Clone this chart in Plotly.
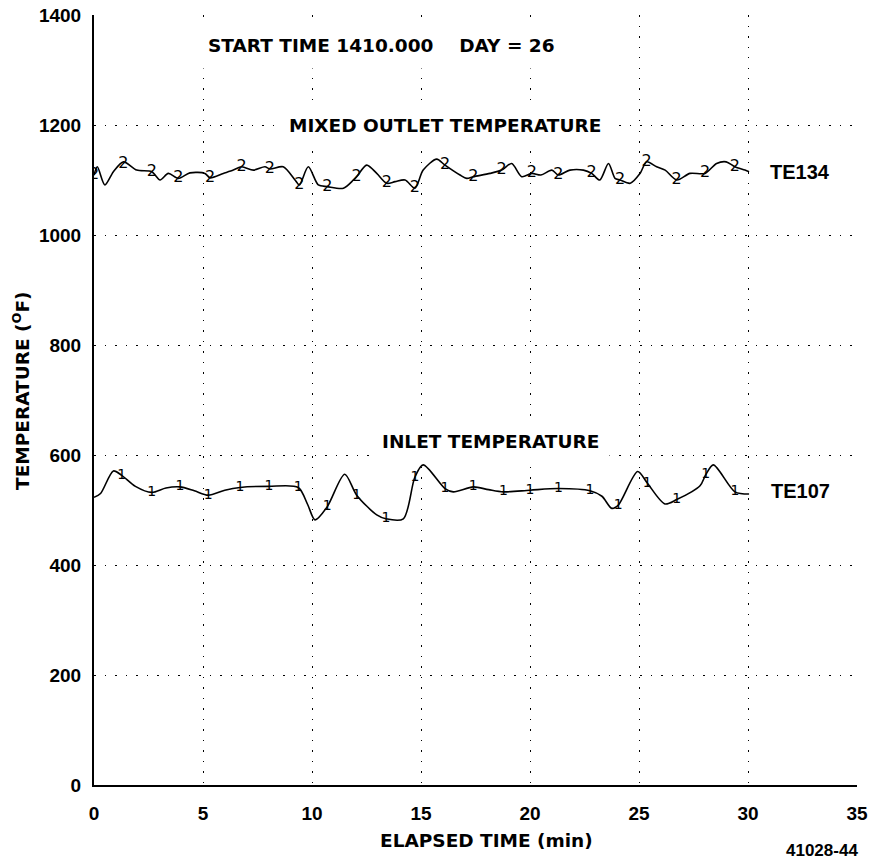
import plotly.graph_objects as go

# ---------------- data ----------------
te134_t = [0.0, 0.15, 0.5, 0.89, 1.35, 1.96, 2.65, 3.03, 3.41, 3.87, 4.4, 5.09, 5.32, 5.93,
           6.39, 6.77, 7.31, 7.84, 8.07, 8.68, 9.22, 9.42, 9.83, 10.29, 10.7, 11.44, 11.9,
           12.05, 12.51, 12.97, 13.43, 13.81, 14.27, 14.72, 15.1, 15.72, 16.1, 16.79, 17.1,
           17.4, 18.17, 18.7, 19.16, 19.62, 20.08, 20.5, 21.0, 21.3, 21.83, 22.45, 22.83,
           23.2, 23.6, 23.9, 24.13, 24.6, 25.05, 25.35, 25.81, 26.2, 26.73, 27.34, 28.03,
           28.56, 29.0, 29.4, 29.86, 30.05]
te134_v = [1109, 1124, 1091, 1115, 1133, 1118, 1115, 1100, 1112, 1103, 1113, 1112, 1104, 1112,
           1118, 1124, 1118, 1124, 1120, 1124, 1100, 1091, 1124, 1091, 1088, 1085, 1100,
           1106, 1127, 1112, 1094, 1097, 1100, 1085, 1118, 1138, 1127, 1109, 1103,
           1106, 1112, 1118, 1130, 1106, 1112, 1109, 1118, 1109, 1118, 1118, 1112,
           1100, 1130, 1103, 1100, 1094, 1112, 1133, 1124, 1118, 1100, 1112, 1112,
           1130, 1133, 1124, 1118, 1115]
te134_mark_t = [0.0, 1.35, 2.65, 3.87, 5.32, 6.77, 8.07, 9.42, 10.7, 12.05, 13.43, 14.72,
                16.1, 17.4, 18.7, 20.08, 21.3, 22.83, 24.13, 25.35, 26.73, 28.03, 29.4]
te134_mark_v = [1109, 1130, 1115, 1103, 1104, 1124, 1120, 1091, 1088, 1106, 1094, 1085,
                1127, 1106, 1118, 1112, 1109, 1112, 1100, 1133, 1100, 1112, 1124]

te107_t = [0.0, 0.3, 0.89, 1.27, 1.9, 2.65, 3.3, 3.94, 4.6, 5.24, 6.0, 6.7, 8.03, 9.37,
           9.8, 10.14, 10.7, 11.5, 12.05, 12.97, 13.39, 14.19, 14.72, 15.1, 16.1, 16.48,
           17.4, 18.1, 18.78, 20.0, 21.3, 22.75, 23.3, 23.75, 24.05, 24.94, 25.38, 26.19,
           26.73, 27.8, 28.06, 28.41, 29.4, 30.05]
te107_v = [523, 530, 571, 563, 543, 532, 540, 542, 535, 527, 536, 541, 543, 541,
           510, 482, 506, 565, 527, 491, 484, 484, 560, 582, 539, 533,
           542, 537, 533, 536, 539, 535, 525, 503, 509, 570, 549, 511,
           519, 544, 564, 582, 533, 529]
te107_mark_t = [1.27, 2.65, 3.94, 5.24, 6.7, 8.03, 9.37, 10.7, 12.05, 13.39, 14.72, 16.1,
                17.4, 18.78, 20.0, 21.3, 22.75, 24.05, 25.38, 26.73, 28.06, 29.4]
te107_mark_v = [563, 532, 542, 527, 541, 543, 541, 506, 527, 484, 560, 539,
                542, 533, 536, 539, 535, 509, 549, 519, 564, 533]

x_ticks = [0, 5, 10, 15, 20, 25, 30, 35]
y_ticks = [0, 200, 400, 600, 800, 1000, 1200, 1400]

# ---------------- figure ----------------
HEAD = "DejaVu Sans"
TICKF = "Liberation Sans"

fig = go.Figure()
line_style = dict(color="black", width=1.6, shape="spline", smoothing=0.8)
fig.add_trace(go.Scatter(x=te134_t, y=te134_v, mode="lines", line=line_style,
                         hoverinfo="skip", showlegend=False))
fig.add_trace(go.Scatter(x=te134_mark_t, y=te134_mark_v, mode="text",
                         text=["2"] * len(te134_mark_t),
                         textfont=dict(family="DejaVu Sans", size=16, color="black"),
                         showlegend=False))
fig.add_trace(go.Scatter(x=te107_t, y=te107_v, mode="lines", line=line_style,
                         hoverinfo="skip", showlegend=False))
fig.add_trace(go.Scatter(x=te107_mark_t, y=te107_mark_v, mode="text",
                         text=["1"] * len(te107_mark_t),
                         textfont=dict(family="DejaVu Sans", size=14, color="black"),
                         showlegend=False))

axis_common = dict(
    showgrid=True, gridcolor="black", gridwidth=1.2, griddash="1.5px,9px",
    showline=True, linecolor="black", linewidth=2, zeroline=False, automargin=False,
    ticks="", tickfont=dict(family=TICKF, size=19, color="black", weight="bold"),
)
fig.update_xaxes(range=[0, 35], tickvals=x_ticks, ticklabelstandoff=10, **axis_common)
fig.update_yaxes(range=[0, 1400], tickvals=y_ticks, ticklabelstandoff=7, **axis_common)

head_font = dict(family=HEAD, size=18.5, color="black", weight="bold")
fig.add_annotation(x=13.18, y=1345, xref="x", yref="y", text="START TIME 1410.000    DAY = 26",
                   showarrow=False, font=head_font, bgcolor="white", borderpad=12)
fig.add_annotation(x=16.1, y=1200, xref="x", yref="y", text="MIXED OUTLET TEMPERATURE",
                   showarrow=False, font=head_font, bgcolor="white", borderpad=12)
fig.add_annotation(x=18.2, y=625, xref="x", yref="y", text="INLET TEMPERATURE",
                   showarrow=False, font=head_font, bgcolor="white", borderpad=10)
label_font = dict(family=TICKF, size=20, color="black", weight="bold")
fig.add_annotation(x=32.4, y=1115, xref="x", yref="y", text="TE134",
                   showarrow=False, font=label_font)
fig.add_annotation(x=32.4, y=535, xref="x", yref="y", text="TE107",
                   showarrow=False, font=label_font)

fig.add_annotation(x=0.515, y=-0.0727, xref="paper", yref="paper",
                   xanchor="center", yanchor="middle",
                   text="ELAPSED TIME (min)", showarrow=False, font=head_font)
fig.add_annotation(x=-0.0957, y=0.513, xref="paper", yref="paper",
                   xanchor="center", yanchor="middle",
                   text="TEMPERATURE (<sup>O</sup>F)", textangle=-90,
                   showarrow=False, font=head_font)
fig.add_annotation(x=1.0039, y=-0.085, xref="paper", yref="paper",
                   xanchor="right", yanchor="middle",
                   text="41028-44", showarrow=False,
                   font=dict(family=TICKF, size=17, color="black", weight="bold"))

fig.update_layout(
    width=871, height=862,
    margin=dict(l=94, r=14, t=15, b=77, autoexpand=False),
    paper_bgcolor="white", plot_bgcolor="white",
    showlegend=False,
)

fig.write_html("out.html")
